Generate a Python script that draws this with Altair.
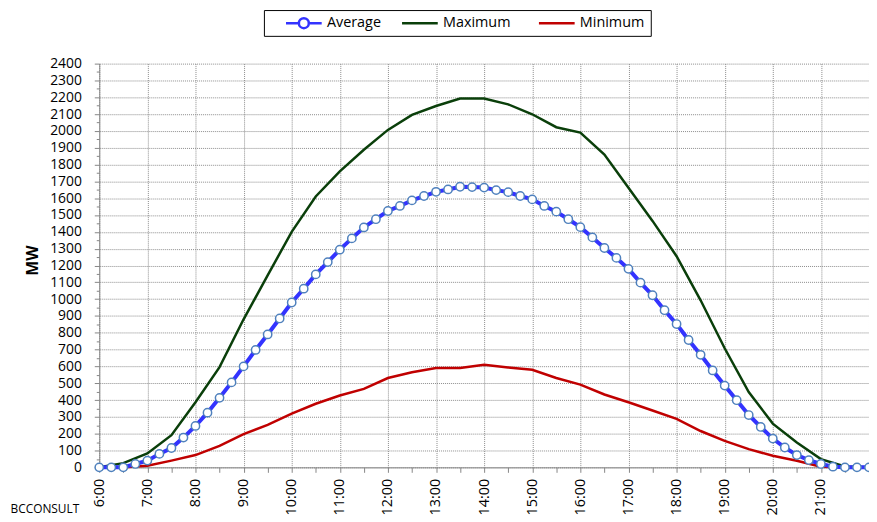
import altair as alt
import pandas as pd

# ---- data ----
AVG_TIMES = [f"{h}:{m:02d}" for h in range(6, 22) for m in (0, 15, 30, 45)] + ["22:00"]
AVERAGE = [
    0, 0, 0, 20,            # 6:00
    40, 80, 115, 177,       # 7:00
    246, 325, 413, 505,     # 8:00
    600, 698, 790, 885,     # 9:00
    980, 1062, 1147, 1220,  # 10:00
    1294, 1361, 1426, 1475, # 11:00
    1524, 1554, 1587, 1613, # 12:00
    1638, 1652, 1668, 1666, # 13:00
    1663, 1648, 1636, 1613, # 14:00
    1593, 1554, 1520, 1475, # 15:00
    1428, 1367, 1304, 1245, # 16:00
    1180, 1098, 1023, 934,  # 17:00
    852, 757, 669, 576,     # 18:00
    486, 399, 311, 240,     # 19:00
    171, 118, 73, 43,       # 20:00
    20, 4, 0, 0,            # 21:00
    0,                      # 22:00
]

EXT_TIMES = [f"{h}:{m:02d}" for h in range(6, 22) for m in (0, 30)] + ["22:00"]
MAXIMUM = [
    0, 25, 83, 191, 387, 596, 880, 1141, 1400, 1610, 1760, 1888, 2006, 2095,
    2148, 2193, 2193, 2158, 2099, 2022, 1990, 1859, 1662, 1465, 1255, 993,
    708, 448, 260, 148, 49, 5, 0,
]
MINIMUM = [
    0, 0, 10, 40, 73, 128, 197, 252, 320, 378, 427, 466, 531, 565, 590, 590,
    610, 594, 580, 531, 492, 433, 387, 338, 288, 216, 157, 108, 69, 39, 4, 0, 0,
]

SERIES = ["Average", "Maximum", "Minimum"]
COLORS = ["#3333ff", "#0a3f0a", "#c00000"]
X_TICKS = [f"{h}:{m:02d}" for h in range(6, 22) for m in (0, 30)] + ["22:00"]
Y_TICKS = list(range(0, 2401, 50))


def to_hours(t):
    h, m = t.split(":")
    return int(h) + int(m) / 60


avg_df = pd.DataFrame({"t": [to_hours(t) for t in AVG_TIMES], "MW": AVERAGE, "series": SERIES[0]})
ext_df = pd.concat([
    pd.DataFrame({"t": [to_hours(t) for t in EXT_TIMES], "MW": MAXIMUM, "series": SERIES[1]}),
    pd.DataFrame({"t": [to_hours(t) for t in EXT_TIMES], "MW": MINIMUM, "series": SERIES[2]}),
])

FONT = "Open Sans"
AXIS_GREY = "#868686"

x_enc = alt.X(
    "t:Q",
    scale=alt.Scale(domain=[6, 22], nice=False, zero=False),
    axis=alt.Axis(
        values=[to_hours(t) for t in X_TICKS],
        labelExpr="(datum.value % 1 === 0 && datum.value < 22) ? floor(datum.value) + ':00' : ''",
        labelAngle=-90,
        labelFont=FONT,
        labelFontSize=14.5,
        labelColor="black",
        labelPadding=6,
        labelOverlap=False,
        tickSize=5,
        tickColor=AXIS_GREY,
        domainColor=AXIS_GREY,
        gridColor="#8c8c8c",
        gridDash=[1, 1],
        gridOpacity={"condition": {"test": "datum.value % 1 === 0", "value": 1}, "value": 0},
        title="BCCONSULT",
        titleX=-90,
        titleY=46,
        titleAlign="left",
        titleBaseline="alphabetic",
        titleFont=FONT,
        titleFontSize=12,
        titleFontWeight="normal",
        titleColor="black",
    ),
)

y_enc = alt.Y(
    "MW:Q",
    scale=alt.Scale(domain=[0, 2400], nice=False),
    axis=alt.Axis(
        values=Y_TICKS,
        format="d",
        labelExpr="datum.value % 100 === 0 ? datum.label : ''",
        labelFont=FONT,
        labelFontSize=14,
        labelColor="black",
        labelPadding=13,
        labelOverlap=False,
        tickSize={"condition": {"test": "datum.value % 100 === 0", "value": 5}, "value": 3},
        tickColor=AXIS_GREY,
        domainColor=AXIS_GREY,
        gridColor="#8c8c8c",
        gridDash=[1, 1],
        gridOpacity={"condition": {"test": "datum.value % 100 === 0", "value": 1}, "value": 0},
        title="MW",
        titleFont=FONT,
        titleFontSize=16,
        titleFontWeight="bold",
        titleColor="black",
        titleX=-59,
        titleY=198,
    ),
)

# legend symbols: drawn 36px wide while the layout only reserves a small square
LINE_SYMBOL = "M-3.6,0L3.6,0"
AVG_SYMBOL = "M-3.6,0L-1,0M1,0L3.6,0M-1,0A1,1,0,1,1,1,0A1,1,0,1,1,-1,0"

ext_lines = alt.Chart(ext_df).mark_line(strokeWidth=2.5).encode(
    x=x_enc,
    y=y_enc,
    color=alt.Color(
        "series:N",
        scale=alt.Scale(domain=SERIES[1:], range=COLORS[1:]),
        legend=alt.Legend(
            orient="none", legendX=166, legendY=-54, direction="horizontal",
            title=" ", titleOrient="left", titlePadding=131, titleFontSize=1,
            symbolType=LINE_SYMBOL, symbolSize=100, symbolStrokeWidth=2.5,
            symbolOffset=13,
            labelFont=FONT, labelFontSize=14.5, labelColor="black", labelOffset=16,
            columnPadding=23, padding=6, strokeColor="black",
        ),
    ),
)

avg_line = alt.Chart(avg_df).mark_line(strokeWidth=4).encode(
    x=x_enc,
    y=y_enc,
    color=alt.Color(
        "series:N",
        scale=alt.Scale(domain=SERIES[:1], range=COLORS[:1]),
        legend=alt.Legend(
            orient="none", legendX=180, legendY=-54, direction="horizontal",
            title=None,
            symbolType=AVG_SYMBOL, symbolSize=100, symbolStrokeWidth=2.5,
            symbolOffset=13,
            labelFont=FONT, labelFontSize=14.5, labelColor="black", labelOffset=16,
            padding=6,
        ),
    ),
)

avg_pts = alt.Chart(avg_df).mark_point(
    shape="circle", size=70, filled=True, fill="white", stroke="#4f81bd",
    strokeWidth=1.5, opacity=1,
).encode(x=x_enc, y=y_enc)

chart = (
    alt.layer(ext_lines, avg_line, avg_pts)
    .resolve_scale(color="independent")
    .resolve_legend(color="independent")
    .properties(
        width=776,
        height=407,
        autosize=alt.AutoSizeParams(type="none"),
        padding={"left": 92, "top": 54, "right": 0, "bottom": 50},
        background="white",
    )
    .configure_view(stroke="transparent")
)

chart.save("out.html", embed_options={"renderer": "svg", "actions": False})
